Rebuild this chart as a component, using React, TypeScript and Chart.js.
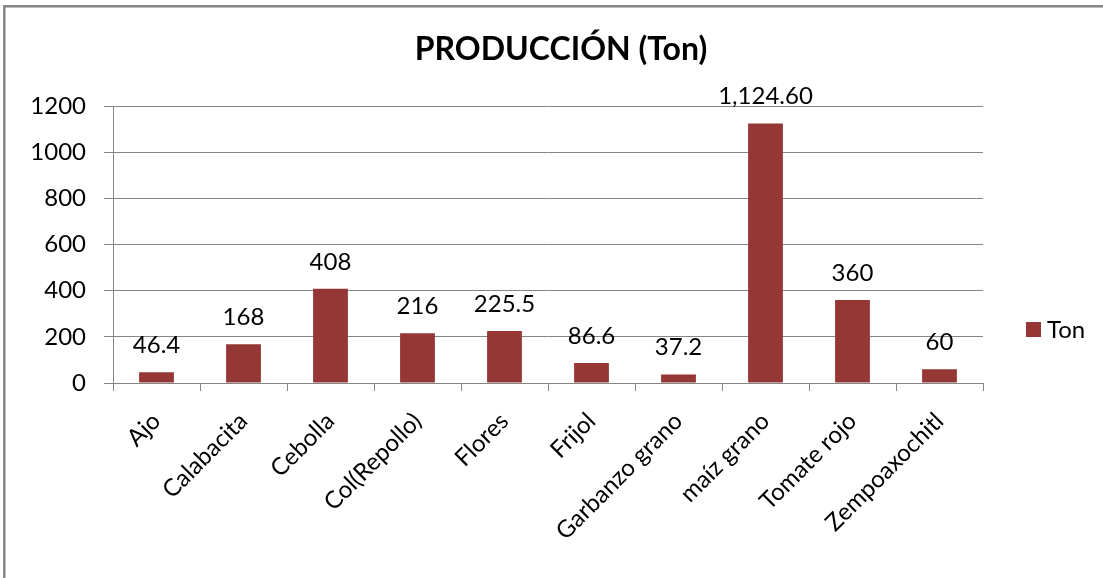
import React, { useEffect, useRef } from "react";
import { Chart, registerables } from "chart.js";

Chart.register(...registerables);

const categories = [
  "Ajo",
  "Calabacita",
  "Cebolla",
  "Col(Repollo)",
  "Flores",
  "Frijol",
  "Garbanzo grano",
  "maíz grano",
  "Tomate rojo",
  "Zempoaxochitl",
];
const tonValues = [46.4, 168, 408, 216, 225.5, 86.6, 37.2, 1124.6, 360, 60];
const valueLabels = ["46.4", "168", "408", "216", "225.5", "86.6", "37.2", "1,124.60", "360", "60"];
const seriesName = "Ton";
const chartTitle = "PRODUCCIÓN (Ton)";
const yTicks = [0, 200, 400, 600, 800, 1000, 1200];

const FONT = "Lato, 'Open Sans', sans-serif";
const BAR = "#953735";
const GRID = "#868686";

const extrasPlugin = {
  id: "extras",
  afterDraw(chart: any) {
    const ctx = chart.ctx;
    ctx.save();
    // outer border
    ctx.strokeStyle = GRID;
    ctx.lineWidth = 2.5;
    ctx.strokeRect(4.3, 6.3, chart.width + 10, chart.height + 10);
    // title
    ctx.fillStyle = "#000";
    ctx.font = `bold 32px ${FONT}`;
    ctx.textAlign = "center";
    ctx.textBaseline = "alphabetic";
    ctx.fillText(chartTitle, 561, 60);
    // data labels
    const meta = chart.getDatasetMeta(0);
    ctx.font = `24px ${FONT}`;
    ctx.textBaseline = "middle";
    meta.data.forEach((bar: any, i: number) => {
      ctx.fillText(valueLabels[i], bar.x, bar.y - 27);
    });
    // legend
    ctx.fillStyle = BAR;
    ctx.fillRect(1026, 322, 15, 15);
    ctx.fillStyle = "#000";
    ctx.textAlign = "left";
    ctx.font = `24px ${FONT}`;
    ctx.fillText(chart.data.datasets[0].label, 1047, 330);
    ctx.restore();
  },
};

export default function App() {
  const ref = useRef<HTMLCanvasElement | null>(null);
  useEffect(() => {
    if (!ref.current) return;
    const chart = new Chart(ref.current, {
      type: "bar",
      data: {
        labels: categories,
        datasets: [
          {
            label: seriesName,
            data: tonValues,
            backgroundColor: BAR,
            barPercentage: 0.4,
            categoryPercentage: 1,
          },
        ],
      },
      options: {
        responsive: false,
        animation: false,
        layout: { padding: { top: 106, right: 120, left: 0, bottom: 0 } },
        plugins: {
          legend: { display: false },
          title: { display: false },
          tooltip: { enabled: false },
        },
        scales: {
          x: {
            offset: true,
            grid: {
              offset: true,
              drawOnChartArea: false,
              drawTicks: true,
              tickLength: 8,
              color: GRID,
              lineWidth: 1,
            },
            border: { color: GRID, width: 1 },
            ticks: {
              autoSkip: false,
              minRotation: 45,
              maxRotation: 45,
              padding: 16,
              color: "#000",
              font: { family: FONT, size: 24 },
            },
            afterFit(scale: any) {
              scale.height = 195;
            },
          },
          y: {
            min: 0,
            max: 1200,
            afterBuildTicks(scale: any) {
              scale.ticks = yTicks.map((v) => ({ value: v }));
            },
            grid: {
              color: GRID,
              lineWidth: 1,
              tickLength: 9,
            },
            border: { color: GRID, width: 1 },
            ticks: {
              padding: 18,
              color: "#000",
              font: { family: FONT, size: 24 },
              callback: (v: any) => String(v),
            },
            afterFit(scale: any) {
              scale.width = 113;
            },
          },
        },
      },
      plugins: [extrasPlugin],
    });
    return () => chart.destroy();
  }, []);
  return (
    <div style={{ position: "absolute", left: 0, top: 0, width: 1103, height: 578, background: "#fff" }}>
      <canvas ref={ref} width={1103} height={578} style={{ display: "block" }} />
    </div>
  );
}
